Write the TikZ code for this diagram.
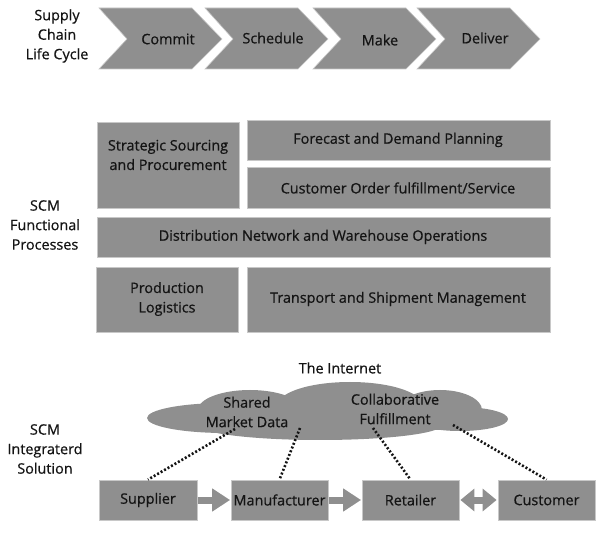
\documentclass[tikz,border=0pt]{standalone}
\usepackage{fontspec}
\setmainfont{Open Sans}
\newfontfamily\lblfont[FakeBold=0.6]{Open Sans}
\usetikzlibrary{arrows.meta}
\definecolor{boxgray}{RGB}{143,143,143}
\definecolor{edgegray}{RGB}{200,200,200}
\definecolor{txt}{RGB}{20,20,20}
\tikzset{
  pbox/.style={fill=boxgray, draw=edgegray, line width=0.8pt},
  lbl/.style={text=txt, font=\lblfont\fontsize{14.4}{19.5}\selectfont, align=center, inner sep=0pt},
  chev/.style={fill=boxgray, draw=edgegray, line width=0.6pt},
  dots/.style={line width=2.6pt, dash pattern=on 2pt off 2pt, draw=txt},
  blockarrow/.style={draw=boxgray, line width=7pt},
}
\begin{document}
\begin{tikzpicture}[x=1pt,y=-1pt]
\useasboundingbox (0,0) rectangle (600,534);
% ---- life cycle
\node[lbl] (lc) at (57,36) {Supply\\Chain\\Life Cycle};
\foreach \L/\nm/\t in {99/c1/Commit,205/c2/Schedule,313/c3/Make,417/c4/Deliver}{
  \draw[chev] (\L,8) -- (\L+93,8) -- (\L+123,39) -- (\L+93,69) -- (\L,69) -- (\L+28,39) -- cycle;
}
\node[lbl] (commit) at (168,39) {Commit};
\node[lbl] (sched) at (273,38) {Schedule};
\node[lbl] (make) at (380,40) {Make};
\node[lbl] (deliv) at (485,38) {Deliver};
% ---- functional processes
\node[lbl] (fp) at (45,225) {SCM\\Functional\\Processes};
\draw[pbox] (97,122) rectangle (239,208);
\node[lbl] (strat) at (168,155) {Strategic Sourcing\\and Procurement};
\draw[pbox] (247,120) rectangle (550,160);
\node[lbl] (fore) at (398,140) {Forecast and Demand Planning};
\draw[pbox] (247,167) rectangle (550,208);
\node[lbl] (cust) at (398,188) {Customer Order fulfillment/Service};
\draw[pbox] (97,217) rectangle (550,257);
\node[lbl] (dist) at (323,237) {Distribution Network and Warehouse Operations};
\draw[pbox] (96,267) rectangle (238,332);
\node[lbl] (prod) at (167,299) {Production\\Logistics};
\draw[pbox] (247,267) rectangle (550,332);
\node[lbl] (trans) at (398,299) {Transport and Shipment Management};
% ---- integrated solution
\node[lbl] (is) at (45,449) {SCM\\Integraterd\\Solution};
\node[lbl] (inet) at (340,368) {The Internet};
\begin{scope}[fill=boxgray]
  \fill (225,418) ellipse [x radius=78, y radius=15];
  \fill (250,410) ellipse [x radius=52, y radius=20];
  \fill (350,405) ellipse [x radius=72, y radius=23];
  \fill (440,410) ellipse [x radius=42, y radius=20];
  \fill (460,419) ellipse [x radius=48, y radius=12];
  \fill (320,425) ellipse [x radius=122, y radius=15];
\end{scope}
\node[lbl] (smd) at (247,412) {Shared\\Market Data};
\node[lbl] (cf) at (395,409) {Collaborative\\Fulfillment};
\coordinate (p1) at (235,429);
\coordinate (p2) at (300,428);
\coordinate (p3) at (373,428);
\coordinate (p4) at (453,425);
\node[pbox, minimum width=98, minimum height=40, inner sep=0pt] (sup) at (148,500) {};
\node[pbox, minimum width=97, minimum height=40, inner sep=0pt] (man) at (279.5,500) {};
\node[pbox, minimum width=97, minimum height=40, inner sep=0pt] (ret) at (410.5,500) {};
\node[pbox, minimum width=97, minimum height=40, inner sep=0pt] (cus) at (546.5,500) {};
\node[lbl] at (sup) {Supplier};
\node[lbl] at (man) {Manufacturer};
\node[lbl] at (ret) {Retailer};
\node[lbl] at (cus) {Customer};
\draw[dots] (p1) -- (sup.north);
\draw[dots] (p2) -- (man.north);
\draw[dots] (p3) -- (ret.north);
\draw[dots] (p4) -- (cus.north);
\draw[blockarrow, -{Triangle[length=18pt,width=22pt]}] ([xshift=0.5pt]sup.east) -- ([xshift=-0.5pt]man.west);
\draw[blockarrow, -{Triangle[length=18pt,width=22pt]}] ([xshift=0.5pt]man.east) -- ([xshift=-0.5pt]ret.west);
\draw[blockarrow, {Triangle[length=14pt,width=22pt]}-{Triangle[length=14pt,width=22pt]}] ([xshift=1pt]ret.east) -- ([xshift=-1pt]cus.west);
\end{tikzpicture}
\end{document}
